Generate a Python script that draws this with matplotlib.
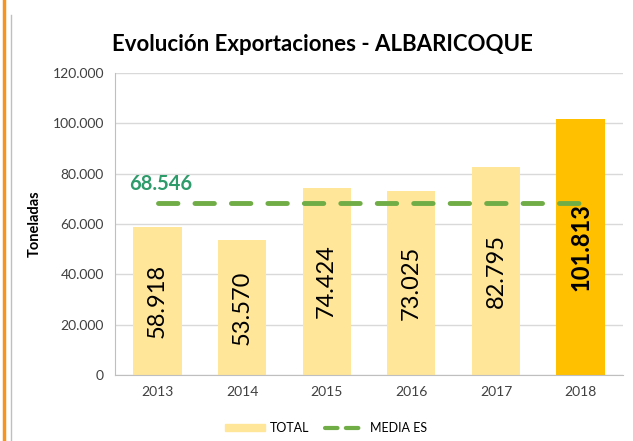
import matplotlib.pyplot as plt
from matplotlib.lines import Line2D

plt.rcParams['font.family'] = ['Lato', 'DejaVu Sans']

years = ['2013', '2014', '2015', '2016', '2017', '2018']
total = [58918, 53570, 74424, 73025, 82795, 101813]
media = 68546
labels = ['58.918', '53.570', '74.424', '73.025', '82.795', '101.813']
yticks = [0, 20000, 40000, 60000, 80000, 100000, 120000]
ytick_labels = ['0', '20.000', '40.000', '60.000', '80.000', '100.000', '120.000']

fig = plt.figure(figsize=(6.33, 4.41), dpi=100)
ax = fig.add_axes([0.182, 0.150, 0.802, 0.684])

colors = ['#FFE699'] * 5 + ['#FFC000']
x = list(range(len(years)))
ax.bar(x, total, width=0.57, color=colors, zorder=2)

for i, v in enumerate(total):
    bold = i == len(total) - 1
    ax.text(i, v / 2, labels[i], rotation=90, ha='center', va='center',
            fontsize=17, color='black', fontweight='bold' if bold else 'normal', zorder=4)

ax.plot([x[0], x[-1]], [media, media], color='#70AD47', lw=3.5,
        dashes=(4, 3.5), dash_capstyle='round', zorder=3)
ax.text(-0.33, media + 3500, '68.546', color='#2E9B6B', fontsize=14.5,
        fontweight='bold', ha='left', va='bottom')

ax.set_xlim(-0.5, 5.5)
ax.set_ylim(0, 120000)
ax.set_xticks(x)
ax.set_xticklabels(years)
ax.set_yticks(yticks)
ax.set_yticklabels(ytick_labels)
ax.tick_params(length=0, labelsize=10, colors='#404040', pad=8)
ax.grid(axis='y', color='#D9D9D9', lw=1, zorder=0)
for s in ['top', 'right']:
    ax.spines[s].set_visible(False)
for s in ['left', 'bottom']:
    ax.spines[s].set_color('#BFBFBF')

ax.set_ylabel('Toneladas', fontsize=10.5, fontweight='bold', color='black', labelpad=8)
fig.text(0.51, 0.898, 'Evolución Exportaciones - ALBARICOQUE', ha='center', va='center',
         fontsize=16, fontweight='bold', color='black')

handles = [plt.Rectangle((0, 0), 1, 1, color='#FFE699'),
           Line2D([0], [0], color='#70AD47', lw=3, dashes=(3, 2), dash_capstyle='round')]
fig.legend(handles, ['TOTAL', 'MEDIA ES'], loc='center', bbox_to_anchor=(0.515, 0.030),
           ncol=2, frameon=False, fontsize=9, handlelength=3.2, handleheight=0.5,
           columnspacing=1.2, handletextpad=0.4)

fig.add_artist(Line2D([0.006, 0.006], [0, 1], color='#F7941D', lw=2.5))
fig.add_artist(Line2D([0.017, 0.017], [0, 0.965], color='#BFBFBF', lw=1))

fig.savefig('out.png', dpi=100)
